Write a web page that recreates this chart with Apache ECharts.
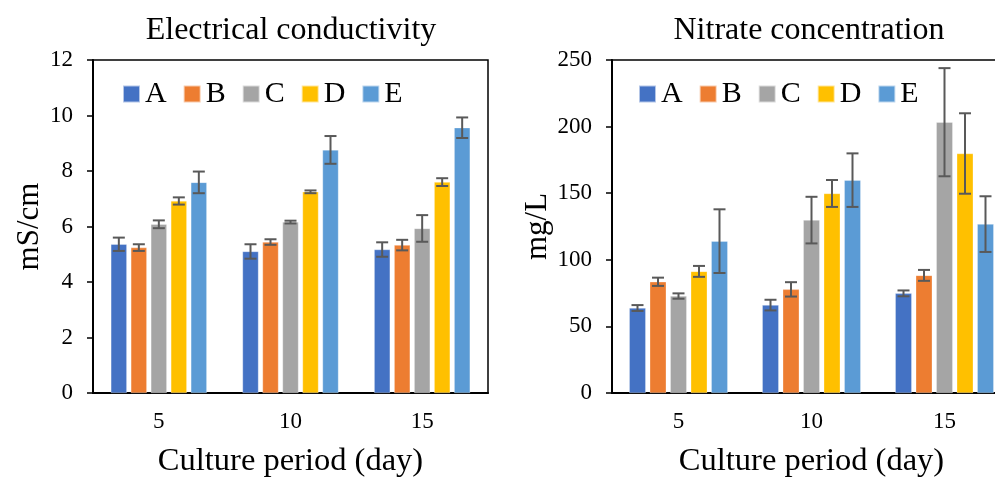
<!DOCTYPE html>
<html><head><meta charset="utf-8">
<script src="https://cdn.jsdelivr.net/npm/echarts@6/dist/echarts.min.js"></script>
<style>html,body{margin:0;padding:0;background:#fff}#c{width:995px;height:477px}</style>
</head><body><div id="c"></div>
<script>
const categories = ['5', '10', '15'];
const seriesNames = ['A', 'B', 'C', 'D', 'E'];
const colors = ['#4472C4', '#ED7D31', '#A5A5A5', '#FFC000', '#5B9BD5'];

// Electrical conductivity (mS/cm), per series across days 5,10,15
const ecA = [5.36, 5.10, 5.17];
const ecB = [5.24, 5.44, 5.33];
const ecC = [6.08, 6.16, 5.93];
const ecD = [6.92, 7.25, 7.60];
const ecE = [7.59, 8.76, 9.56];
const ecErrA = [0.24, 0.26, 0.26];
const ecErrB = [0.12, 0.10, 0.19];
const ecErrC = [0.14, 0.05, 0.48];
const ecErrD = [0.13, 0.05, 0.14];
const ecErrE = [0.39, 0.50, 0.37];

// Nitrate concentration (mg/L)
const noA = [63.8, 66.0, 74.8];
const noB = [83.5, 77.8, 88.3];
const noC = [72.8, 129.8, 203.3];
const noD = [91.3, 149.8, 179.8];
const noE = [114.0, 159.8, 126.8];
const noErrA = [2.2, 4.0, 2.2];
const noErrB = [3.1, 5.4, 4.1];
const noErrC = [2.0, 17.5, 40.6];
const noErrD = [4.1, 10.1, 30.2];
const noErrE = [23.9, 20.1, 20.9];

const ecTicks = [0, 2, 4, 6, 8, 10, 12];
const noTicks = [0, 50, 100, 150, 200, 250];

const ecVals = [ecA, ecB, ecC, ecD, ecE];
const ecErrs = [ecErrA, ecErrB, ecErrC, ecErrD, ecErrE];
const noVals = [noA, noB, noC, noD, noE];
const noErrs = [noErrA, noErrB, noErrC, noErrD, noErrE];

const FONT = 'Liberation Serif';
const BAR_W = [16, 16.5];
const BAR_GAP = [4, 4];

function errSeries(gi, vals, errs) {
  const data = [];
  vals.forEach((arr, si) => arr.forEach((v, ci) => data.push([ci, si, v, errs[si][ci]])));
  return {
    type: 'custom', xAxisIndex: gi, yAxisIndex: gi, z: 10, silent: true,
    encode: { x: 0, y: 2 },
    data: data,
    renderItem: function (params, api) {
      const ci = api.value(0), si = api.value(1), v = api.value(2), e = api.value(3);
      const c = api.coord([ci, v]);
      const x = c[0] + (si - 2) * (BAR_W[gi] + BAR_GAP[gi]);
      const yt = api.coord([ci, v + e])[1];
      const yb = api.coord([ci, v - e])[1];
      const hw = 6;
      const st = { stroke: '#595959', lineWidth: 2 };
      return { type: 'group', children: [
        { type: 'line', shape: { x1: x, y1: yt, x2: x, y2: yb }, style: st },
        { type: 'line', shape: { x1: x - hw, y1: yt, x2: x + hw, y2: yt }, style: st },
        { type: 'line', shape: { x1: x - hw, y1: yb, x2: x + hw, y2: yb }, style: st }
      ]};
    }
  };
}

function barSeries(gi, vals) {
  return vals.map((arr, si) => ({
    name: seriesNames[si], type: 'bar', xAxisIndex: gi, yAxisIndex: gi,
    data: arr, barWidth: BAR_W[gi], barGap: (BAR_GAP[gi] / BAR_W[gi] * 100) + '%',
    itemStyle: { color: colors[si], borderColor: 'rgba(255,255,255,0.6)', borderWidth: 0.5 },
    silent: true
  }));
}

const txt = { fontFamily: FONT, color: '#000' };

function xAxis(gi) {
  return {
    type: 'category', gridIndex: gi, data: categories,
    axisLine: { lineStyle: { color: '#000', width: 2 } },
    axisTick: { show: false },
    axisLabel: Object.assign({ fontSize: 23, margin: 17 }, txt),
    name: 'Culture period (day)', nameLocation: 'middle', nameGap: 52,
    nameTextStyle: Object.assign({ fontSize: 32.5 }, txt)
  };
}
function yAxis(gi, ticks, name, gap) {
  return {
    type: 'value', gridIndex: gi, min: ticks[0], max: ticks[ticks.length - 1],
    interval: ticks[1] - ticks[0],
    axisLine: { show: true, lineStyle: { color: '#000', width: 2 } },
    axisTick: { show: true, length: 6, lineStyle: { color: '#000', width: 1.5 } },
    splitLine: { show: false },
    axisLabel: Object.assign({ fontSize: 23, margin: 20 }, txt),
    name: name, nameLocation: 'middle', nameGap: gap, nameRotate: 90,
    nameTextStyle: Object.assign({ fontSize: 31 }, txt)
  };
}

const legendBase = {
  data: seriesNames, itemWidth: 17, itemHeight: 17, itemGap: 16, icon: 'rect',
  textStyle: Object.assign({ fontSize: 30 }, txt), selectedMode: false, padding: 0
};

const option = {
  animation: false,
  title: [
    { text: 'Electrical conductivity', left: 286, top: 10, textAlign: 'center',
      textStyle: Object.assign({ fontSize: 32, fontWeight: 'normal' }, txt) },
    { text: 'Nitrate concentration', left: 804, top: 10, textAlign: 'center',
      textStyle: Object.assign({ fontSize: 32, fontWeight: 'normal' }, txt) }
  ],
  legend: [
    Object.assign({ left: 122, top: 79 }, legendBase),
    Object.assign({ left: 638, top: 79 }, legendBase)
  ],
  grid: [
    { left: 93, top: 60, width: 395, height: 333, show: true, borderColor: '#000', borderWidth: 1.5, outerBoundsMode: 'none', containLabel: false },
    { left: 612, top: 60, width: 399, height: 333, show: true, borderColor: '#000', borderWidth: 1.5, outerBoundsMode: 'none', containLabel: false }
  ],
  xAxis: [xAxis(0), xAxis(1)],
  yAxis: [yAxis(0, ecTicks, 'mS/cm', 48), yAxis(1, noTicks, 'mg/L', 58)],
  series: [].concat(barSeries(0, ecVals), barSeries(1, noVals),
    [errSeries(0, ecVals, ecErrs), errSeries(1, noVals, noErrs)])
};

const chart = echarts.init(document.getElementById('c'));
chart.setOption(option);
</script>
</body></html>
